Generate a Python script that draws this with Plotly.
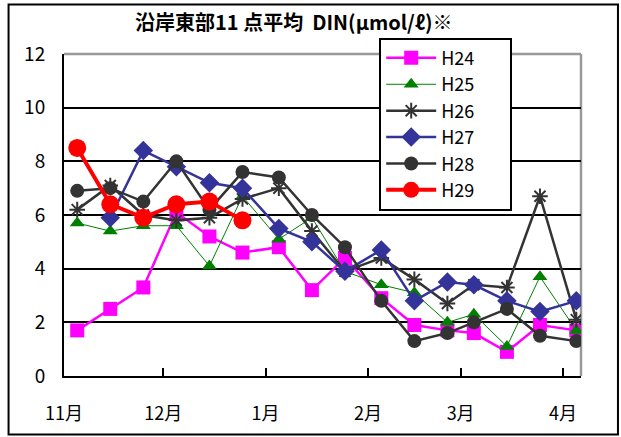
import plotly.graph_objects as go

dates = ["2012-11-05", "2012-11-15", "2012-11-25", "2012-12-05", "2012-12-15", "2012-12-25",
         "2013-01-05", "2013-01-15", "2013-01-25", "2013-02-05", "2013-02-15", "2013-02-25",
         "2013-03-05", "2013-03-15", "2013-03-25", "2013-04-05"]

h24 = [1.7, 2.5, 3.3, 6.1, 5.2, 4.6, 4.8, 3.2, 4.4, 2.9, 1.9, 1.7, 1.6, 0.9, 1.9, 1.7]
h25 = [5.7, 5.4, 5.6, 5.6, 4.1, 6.7, 5.1, 5.9, 3.9, 3.4, 3.1, 2.0, 2.3, 1.1, 3.7, 1.7]
h26 = [6.2, 7.1, 6.0, 5.8, 5.9, 6.6, 7.0, 5.4, 3.9, 4.4, 3.6, 2.7, 3.4, 3.3, 6.7, 2.1]
h27 = [None, 5.9, 8.4, 7.8, 7.2, 7.0, 5.5, 5.0, 3.9, 4.7, 2.8, 3.5, 3.4, 2.8, 2.4, 2.8]
h28 = [6.9, 7.0, 6.5, 8.0, 6.2, 7.6, 7.4, 6.0, 4.8, 2.8, 1.3, 1.6, 2.0, 2.5, 1.5, 1.3]
h29 = [8.5, 6.4, 5.9, 6.4, 6.5, 5.8]

month_ticks = ["2012-11-01", "2012-12-01", "2013-01-01", "2013-02-01", "2013-03-01", "2013-04-01"]
month_labels = ["11月", "12月", "1月", "2月", "3月", "4月"]
y_ticks = [0, 2, 4, 6, 8, 10, 12]

title_text = "沿岸東部11 点平均  DIN(μmol/ℓ)※"

FONT = "Noto Sans CJK JP"
PAD = "<span style='color:white'>___</span>"

series = [
    ("H24", h24, dict(color="#FF00FF", width=2.5), dict(symbol="square", size=14, color="#FF00FF")),
    ("H25", h25, dict(color="#008000", width=1), dict(symbol="triangle-up", size=13, color="#008000")),
    ("H26", h26, dict(color="#333333", width=2.5),
     dict(symbol="asterisk-open", size=13, color="#333333", line=dict(color="#333333", width=2))),
    ("H27", h27, dict(color="#333399", width=2.5), dict(symbol="diamond", size=15, color="#333399")),
    ("H28", h28, dict(color="#333333", width=2.5), dict(symbol="circle", size=14, color="#333333")),
    ("H29", h29, dict(color="#FF0000", width=4), dict(symbol="circle", size=18, color="#FF0000")),
]

fig = go.Figure()
for name, vals, line, marker in series:
    fig.add_trace(go.Scatter(
        x=dates[:len(vals)], y=vals, name=name + PAD, mode="lines+markers",
        line=line, marker=marker, connectgaps=False, legendgroup=name,
        hovertemplate=name + ": %{y}<extra></extra>",
    ))

W, H = 621, 437
PL, PR, PT, PB = 63.5, 581.0, 54.3, 375.7   # plot-area edges on screen
pw, ph = PR - PL, PB - PT


def px(xs):
    return (xs - PL) / pw


def py(ys):
    return (PB - ys) / ph


fig.update_layout(
    width=W, height=H,
    margin=dict(l=PL, r=W - PR, t=PT, b=H - PB, autoexpand=False),
    paper_bgcolor="white", plot_bgcolor="white",
    font=dict(family=FONT, size=18, color="black"),
    showlegend=True,
    legend=dict(
        x=px(379), y=py(38), xanchor="left", yanchor="top",
        bgcolor="white", bordercolor="black", borderwidth=2,
        font=dict(family=FONT, size=18, color="black"),
        itemwidth=50, tracegroupgap=0,
    ),
    annotations=[dict(
        text="<b>" + title_text + "</b>", xref="paper", yref="paper",
        x=px(294), y=py(22),
        xanchor="center", yanchor="middle", showarrow=False,
        font=dict(family=FONT, size=20, color="black"),
    )],
    shapes=[
        dict(type="rect", xref="paper", yref="paper",
             x0=px(8), x1=px(618), y0=py(434), y1=py(5),
             line=dict(color="black", width=2), layer="below"),
        dict(type="line", xref="paper", yref="paper", x0=0, x1=1, y0=1, y1=1,
             line=dict(color="#999999", width=2.5), layer="between"),
        dict(type="line", xref="paper", yref="paper", x0=1, x1=1, y0=0, y1=1,
             line=dict(color="#999999", width=2.5), layer="between"),
    ],
)

fig.update_xaxes(
    type="date", range=["2012-11-01", "2013-04-06 10:00"],
    tickvals=month_ticks, ticktext=month_labels,
    ticks="inside", ticklen=8, tickwidth=2, tickcolor="black",
    showline=True, linecolor="black", linewidth=2,
    showgrid=False, zeroline=False,
    tickfont=dict(family=FONT, size=18), ticklabelstandoff=20,
)
fig.update_yaxes(
    range=[0, 12], tickvals=y_ticks,
    ticks="inside", ticklen=8, tickwidth=2, tickcolor="black",
    showline=True, linecolor="black", linewidth=2,
    showgrid=True, gridcolor="black", gridwidth=2, zeroline=False,
    tickfont=dict(family=FONT, size=19), ticklabelstandoff=13,
)

fig.write_html(
    "out.html",
    config={"displayModeBar": False},
    post_script="document.body.style.margin='0';document.body.style.overflow='hidden';",
)
